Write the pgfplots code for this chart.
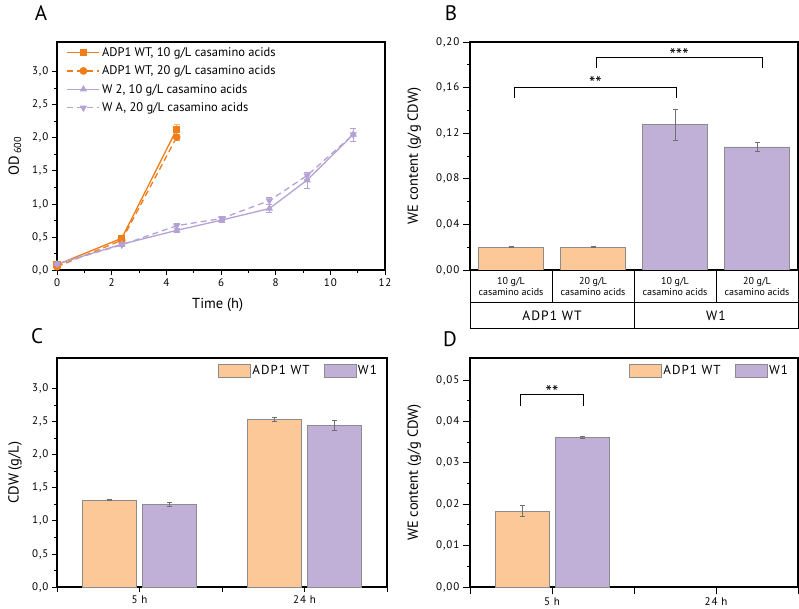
\documentclass[border=0pt]{standalone}
\usepackage{fontspec}
\setmainfont{PT Sans}
\newfontfamily\tickfont[LetterSpace=9]{PT Sans}
\newfontfamily\legfont[LetterSpace=8]{PT Sans}
\usepackage{pgfplots}
\pgfplotsset{compat=1.18}
\definecolor{org}{RGB}{240,125,25}
\definecolor{lav}{RGB}{180,162,212}
\definecolor{barO}{RGB}{252,200,152}
\definecolor{barP}{RGB}{192,176,216}
\definecolor{edge}{RGB}{140,140,140}
\tikzset{sigstar/.style={font=\fontsize{18}{19}\selectfont, anchor=base, inner sep=0pt}}
\pgfplotsset{
  myax/.style={
    scale only axis,
    axis line style={line width=1.1pt},
    tick style={black, line width=0.8pt},
    tick align=outside,
    tick pos=left,
    major tick length=5pt,
    minor tick length=3pt,
    tick label style={font=\tickfont\fontsize{11}{12}\selectfont},
    label style={font=\fontsize{14.5}{16}\selectfont},
    /pgf/number format/assume math mode=true,
    scaled y ticks=false,
  },
  yfmt/.style={yticklabel style={/pgf/number format/fixed, /pgf/number format/fixed zerofill,
      /pgf/number format/precision=#1, /pgf/number format/use comma}},
  erb/.style={error bars/.cd, y dir=both, y explicit,
    error bar style={edge!80!black, line width=0.6pt},
    error mark options={edge!80!black, line width=0.6pt, mark size=2.5pt, rotate=90}, /pgfplots/.cd},
  linleg/.style={legend image code/.code={\draw[mark repeat=2,mark phase=2,##1] plot coordinates {(0pt,0pt) (16pt,0pt) (32pt,0pt)};}},
  barleg/.style={
    legend columns=2,
    legend style={at={(axis description cs:0.985,0.985)}, anchor=north east, draw=none, fill=none,
      font=\legfont\fontsize{13}{14}\selectfont, /tikz/every even column/.append style={column sep=12pt}},
    legend image code/.code={\draw[##1] (0pt,-6.5pt) rectangle (32pt,6.5pt);}},
}
\begin{document}
\begin{tikzpicture}
% ---------------- Panel A ----------------
\begin{scope}[shift={(57pt,338pt)}]
\begin{axis}[myax, width=328pt, height=228pt,
  xmin=0, xmax=12, ymin=0, ymax=3.45,
  xtick={0,2,4,6,8,10,12}, minor x tick num=1,
  ytick={0,0.5,1,1.5,2,2.5,3}, minor y tick num=1,
  yfmt=1,
  xlabel={Time (h)}, ylabel={OD\textsubscript{\,600}},
  xlabel style={at={(axis description cs:0.49,-0.155)}, anchor=center},
  ylabel style={at={(axis description cs:-0.128,0.5)}, anchor=center},
  legend style={at={(axis description cs:0.02,0.995)}, anchor=north west, draw=none, fill=none,
    font=\fontsize{12.5}{13}\selectfont, row sep=4pt},
  legend cell align=left,
]
\addplot[linleg, org, line width=1.3pt, mark=square*, mark size=3pt, mark options={solid},
  error bars/.cd, y dir=both, y explicit, error bar style={org!60, line width=0.6pt}]
  coordinates {(0,0.08) +- (0,0.01) (2.37,0.48) +- (0,0.02) (4.38,2.13) +- (0,0.08)};
\addlegendentry{ADP1 WT, 10 g/L casamino acids}
\addplot[linleg, org, line width=1.3pt, dash pattern=on 6pt off 4pt, mark=*, mark size=3.2pt, mark options={solid},
  error bars/.cd, y dir=both, y explicit, error bar style={org!60, line width=0.6pt, solid}]
  coordinates {(0,0.05) +- (0,0.01) (2.37,0.45) +- (0,0.02) (4.38,2.01) +- (0,0.05)};
\addlegendentry{ADP1 WT, 20 g/L casamino acids}
\addplot[linleg, lav, line width=1.3pt, mark=triangle*, mark size=3pt, mark options={solid},
  error bars/.cd, y dir=both, y explicit, error bar style={lav, line width=0.6pt}]
  coordinates {(0,0.09) +- (0,0.01) (2.37,0.39) +- (0,0.02) (4.38,0.60) +- (0,0.03) (6.02,0.755) +- (0,0.03)
  (7.77,0.93) +- (0,0.06) (9.15,1.36) +- (0,0.12) (10.84,2.05) +- (0,0.1)};
\addlegendentry{W 2, 10 g/L casamino acids}
\addplot[linleg, lav, line width=1.3pt, dash pattern=on 6pt off 4pt, mark=triangle*, mark size=3pt, mark options={solid, rotate=180},
  error bars/.cd, y dir=both, y explicit, error bar style={lav, line width=0.6pt, solid}]
  coordinates {(0,0.09) +- (0,0.01) (2.37,0.38) +- (0,0.02) (4.38,0.67) +- (0,0.04) (6.02,0.78) +- (0,0.03)
  (7.77,1.05) +- (0,0.05) (9.15,1.43) +- (0,0.05) (10.84,2.05) +- (0,0.1)};
\addlegendentry{W A, 20 g/L casamino acids}
\end{axis}
\end{scope}

% ---------------- Panel B ----------------
\begin{scope}[shift={(470pt,338pt)}]
\begin{axis}[myax, width=328pt, height=228pt, major tick length=7pt,
  xmin=-0.5, xmax=3.5, ymin=0, ymax=0.2,
  xtick=\empty,
  ytick={0,0.04,0.08,0.12,0.16,0.2}, minor y tick num=1,
  yfmt=2,
  ylabel={WE content (g/g CDW)},
  ylabel style={at={(axis description cs:-0.17,0.5)}, anchor=center},
  ybar, bar width=65pt,
]
\addplot[fill=barO, draw=edge, bar shift=0pt, erb]
  coordinates {(0,0.020) +- (0,0.0005) (1,0.020) +- (0,0.0005)};
\addplot[fill=barP, draw=edge, bar shift=0pt, erb]
  coordinates {(2,0.1275) +- (0,0.0135) (3,0.108) +- (0,0.004)};
\draw[line width=1pt] (axis cs:0.04,0.151) -- (axis cs:0.04,0.1605) -- (axis cs:2.02,0.1605) -- (axis cs:2.02,0.151);
\node[sigstar] at (axis cs:1.03,0.1585) {**};
\draw[line width=1pt] (axis cs:1.04,0.177) -- (axis cs:1.04,0.1865) -- (axis cs:3.07,0.1865) -- (axis cs:3.07,0.177);
\node[sigstar] at (axis cs:2.05,0.1830) {***};
\end{axis}
\end{scope}
% category table under B
\begin{scope}[x=1pt,y=1pt]
\draw[line width=1pt] (470,338) -- (470,279) -- (798,279) -- (798,338);
\draw[line width=1pt] (470,305) -- (798,305);
\draw[line width=1pt] (552,305) -- (552,338) (634,279) -- (634,338) (716,305) -- (716,338);
\foreach \cx in {511,675}{\node[align=center, font=\fontsize{10}{11.5}\selectfont] at (\cx,321.5) {10 g/L\\casamino acids};}
\foreach \cx in {593,757}{\node[align=center, font=\fontsize{10}{11.5}\selectfont] at (\cx,321.5) {20 g/L\\casamino acids};}
\node[font=\legfont\fontsize{13.5}{14}\selectfont] at (552,292) {ADP1 WT};
\node[font=\legfont\fontsize{13.5}{14}\selectfont] at (716,292) {W1};
\end{scope}

% ---------------- Panel C ----------------
\begin{scope}[shift={(57pt,21pt)}]
\begin{axis}[myax, width=330pt, height=229pt,
  xmin=0.5, xmax=2.5, ymin=0, ymax=3.46,
  xtick={0.5,1,1.5,2,2.5}, xticklabels={,5 h,,24 h,},
  ytick={0,0.5,1,1.5,2,2.5,3}, minor y tick num=1,
  yfmt=1,
  ylabel={CDW (g/L)},
  ylabel style={at={(axis description cs:-0.127,0.5)}, anchor=center},
  ybar, bar width=54pt, barleg,
]
\addplot[forget plot, fill=barO, draw=edge, bar shift=-30pt, erb]
  coordinates {(1,1.314) +- (0,0.005) (2,2.535) +- (0,0.025)};
\addplot[forget plot, fill=barP, draw=edge, bar shift=30pt, erb]
  coordinates {(1,1.25) +- (0,0.035) (2,2.445) +- (0,0.075)};
\addlegendimage{fill=barO, draw=edge}
\addlegendentry{ADP1 WT}
\addlegendimage{fill=barP, draw=edge}
\addlegendentry{W1}
\end{axis}
\end{scope}

% ---------------- Panel D ----------------
\begin{scope}[shift={(470pt,21pt)}]
\begin{axis}[myax, width=328pt, height=229pt, major tick length=7pt,
  xmin=0.5, xmax=2.5, ymin=0, ymax=0.0553,
  xtick={0.5,1,1.5,2,2.5}, xticklabels={,5 h,,24 h,},
  ytick={0,0.01,0.02,0.03,0.04,0.05}, minor y tick num=1,
  yfmt=2,
  ylabel={WE content (g/g CDW)},
  ylabel style={at={(axis description cs:-0.17,0.5)}, anchor=center},
  ybar, bar width=54pt, barleg,
]
\addplot[forget plot, fill=barO, draw=edge, bar shift=-30pt, erb]
  coordinates {(1,0.0184) +- (0,0.0014)};
\addplot[forget plot, fill=barP, draw=edge, bar shift=30pt, erb]
  coordinates {(1,0.0362) +- (0,0.0003)};
\addlegendimage{fill=barO, draw=edge}
\addlegendentry{ADP1 WT}
\addlegendimage{fill=barP, draw=edge}
\addlegendentry{W1}
\draw[line width=1pt] (axis cs:0.805,0.0437) -- (axis cs:0.805,0.0464) -- (axis cs:1.195,0.0464) -- (axis cs:1.195,0.0437);
\node[sigstar] at (axis cs:1.0,0.0455) {**};
\end{axis}
\end{scope}

% panel letters
\begin{scope}[x=1pt,y=1pt]
\node[font=\fontsize{21}{24}\selectfont] at (41,595) {A};
\node[font=\fontsize{21}{24}\selectfont] at (451,595) {B};
\node[font=\fontsize{21}{24}\selectfont] at (37,272) {C};
\node[font=\fontsize{21}{24}\selectfont] at (450,269) {D};
\end{scope}
\pgfresetboundingbox
\path[use as bounding box] (0pt,0pt) rectangle (799pt,608pt);
\end{tikzpicture}
\end{document}
